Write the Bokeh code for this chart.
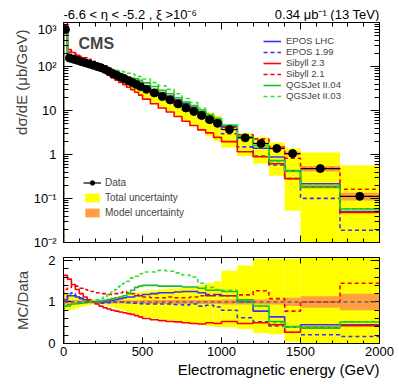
import math
from bokeh.plotting import figure
from bokeh.layouts import column, row
from bokeh.models import (Range1d, LinearAxis, LogAxis, Legend, LegendItem, Label, Title,
                          FixedTicker, LogTicker, CustomJSTickFormatter, ColumnDataSource, Span)
from bokeh.embed import file_html
from bokeh.resources import INLINE

FONT = "Liberation Sans"

# ---------------- data ----------------
bin_edges = [0, 25, 50, 75, 100, 125, 150, 175, 200, 225, 250, 275, 300, 325, 350, 375, 400,
             425, 450, 475, 500, 550, 600, 650, 700, 750, 800, 850, 900, 950, 1000,
             1100, 1200, 1300, 1400, 1500, 1750, 2000]

data_xsec = [690, 156, 147, 138, 129, 121, 114, 107, 100, 94, 86, 77, 69, 63, 57, 52, 47,
             42.7, 38.8, 35, 30.3, 25, 20.8, 17.4, 14.1, 11.4, 9.5, 7.7, 6.2, 5.1,
             3.7, 2.4, 1.78, 1.37, 1.05, 0.48, 0.112]

# relative total uncertainty (up / down) and model uncertainty
tot_up = [0.25, 0.2, 0.18, 0.15, 0.12, 0.1, 0.08, 0.06, 0.05, 0.05, 0.06, 0.08, 0.1, 0.12,
          0.14, 0.16, 0.18, 0.2, 0.22, 0.24, 0.26, 0.28, 0.3, 0.32, 0.33, 0.35, 0.36, 0.4,
          0.45, 0.5, 0.24, 0.26, 0.38, 0.36, 0.3, 1.3, 4.0]
tot_dn = [0.2, 0.2, 0.18, 0.15, 0.12, 0.1, 0.08, 0.06, 0.05, 0.05, 0.07, 0.1, 0.13, 0.16,
          0.19, 0.22, 0.25, 0.28, 0.3, 0.33, 0.36, 0.4, 0.42, 0.45, 0.48, 0.5, 0.52, 0.55,
          0.58, 0.6, 0.61, 0.62, 0.65, 0.76, 0.95, 0.999, 0.999]
model_unc = [0.06, 0.05, 0.05, 0.05, 0.04, 0.04, 0.04, 0.04, 0.04, 0.04, 0.04, 0.04, 0.04,
             0.04, 0.04, 0.04, 0.04, 0.04, 0.04, 0.04, 0.05, 0.05, 0.05, 0.05, 0.05, 0.05,
             0.05, 0.05, 0.05, 0.05, 0.06, 0.06, 0.06, 0.06, 0.1, 0.14, 0.2]

# total-uncertainty band as drawn in the ratio panel (upper / lower edge)
ratio_band_hi = [1.2, 1.2, 1.18, 1.15, 1.12, 1.1, 1.08, 1.06, 1.05, 1.05, 1.06, 1.08, 1.1,
                 1.12, 1.14, 1.16, 1.18, 1.2, 1.22, 1.24, 1.26, 1.28, 1.3, 1.32, 1.33, 1.35,
                 1.36, 1.4, 1.45, 1.5, 1.75, 1.88, 2.04, 2.04, 2.04, 2.2, 2.2]
ratio_band_lo = [0.8, 0.8, 0.82, 0.85, 0.88, 0.9, 0.92, 0.94, 0.95, 0.95, 0.93, 0.9, 0.87,
                 0.84, 0.81, 0.78, 0.75, 0.72, 0.7, 0.67, 0.64, 0.6, 0.58, 0.55, 0.52, 0.5,
                 0.48, 0.45, 0.42, 0.4, 0.39, 0.35, 0.25, 0.22, 0.05, 0.0, 0.0]

# MC / Data ratios
epos_lhc = [1.05, 1.15, 1.15, 1.12, 1.08, 1.04, 1.02, 1.0, 1.0, 1.0, 1.0, 1.02, 1.04, 1.06,
            1.08, 1.1, 1.12, 1.12, 1.15, 1.15, 1.18, 1.2, 1.22, 1.22, 1.24, 1.25, 1.25,
            1.22, 1.15, 1.18, 1.15, 1.0, 0.78, 0.64, 0.4, 0.45, 0.45]
epos_199 = [1.0, 1.2, 1.22, 1.15, 1.1, 1.05, 1.02, 1.0, 0.98, 0.97, 0.97, 0.98, 1.0, 1.0,
            1.0, 1.0, 0.98, 0.97, 0.97, 0.96, 0.95, 0.95, 0.95, 0.95, 0.94, 0.93, 0.95,
            0.9, 0.92, 0.88, 0.8, 0.62, 0.52, 0.42, 0.27, 0.21, 0.17]
sibyll_23 = [1.64, 1.55, 1.42, 1.3, 1.2, 1.12, 1.05, 1.0, 0.95, 0.9, 0.86, 0.83, 0.8, 0.78,
             0.76, 0.74, 0.72, 0.7, 0.67, 0.64, 0.6, 0.57, 0.55, 0.53, 0.52, 0.5, 0.48,
             0.47, 0.5, 0.48, 0.53, 0.48, 0.5, 0.45, 0.27, 0.39, 0.43]
sibyll_21 = [1.3, 1.35, 1.4, 1.38, 1.33, 1.3, 1.28, 1.25, 1.22, 1.2, 1.2, 1.18, 1.18, 1.2,
             1.22, 1.25, 1.22, 1.2, 1.18, 1.15, 1.12, 1.1, 1.1, 1.12, 1.1, 1.1, 1.12, 1.15,
             1.18, 1.15, 1.15, 1.17, 1.27, 1.08, 0.78, 1.0, 1.45]
qgsjet_04 = [0.9, 0.93, 0.95, 0.96, 0.97, 0.98, 1.0, 1.0, 1.0, 1.02, 1.04, 1.06, 1.08, 1.1,
             1.12, 1.15, 1.2, 1.28, 1.35, 1.38, 1.4, 1.4, 1.38, 1.38, 1.38, 1.36, 1.36,
             1.33, 1.28, 1.28, 1.25, 1.05, 0.9, 0.53, 0.41, 0.37, 0.52]
qgsjet_03 = [1.0, 0.9, 0.95, 1.0, 1.0, 1.02, 1.02, 1.03, 1.05, 1.08, 1.12, 1.18, 1.24, 1.3,
             1.38, 1.45, 1.5, 1.58, 1.62, 1.68, 1.72, 1.72, 1.76, 1.74, 1.7, 1.65, 1.6,
             1.45, 1.35, 1.3, 1.28, 0.99, 0.9, 0.5, 0.39, 0.4, 0.52]

models = [
    ("EPOS LHC", epos_lhc, "#3333ff", "solid"),
    ("EPOS 1.99", epos_199, "#3333ff", "4 3"),
    ("Sibyll 2.3", sibyll_23, "#ff0000", "solid"),
    ("Sibyll 2.1", sibyll_21, "#ff0000", "4 3"),
    ("QGSJet II.04", qgsjet_04, "#22bb22", "solid"),
    ("QGSJet II.03", qgsjet_03, "#33dd33", "4 3"),
]

lo = bin_edges[:-1]
hi = bin_edges[1:]
centers = [(a + b) / 2 for a, b in zip(lo, hi)]

YELLOW = "#ffff00"
ORANGE = "#ff9f40"
SIDE = 30            # width of the column holding the rotated y titles
LEFT, RIGHT = 63 - SIDE, 20


def style_axis(ax, major_in, minor_in, labels=True, size="13px"):
    ax.major_tick_in = major_in
    ax.major_tick_out = 0
    ax.minor_tick_in = minor_in
    ax.minor_tick_out = 0
    ax.axis_line_color = "black"
    ax.major_tick_line_color = "black"
    ax.minor_tick_line_color = "black"
    ax.major_label_text_font = FONT
    ax.major_label_text_color = "black"
    if labels:
        ax.major_label_text_font_size = size
    else:
        ax.major_label_text_font_size = "1px"
        ax.major_label_text_alpha = 0
        ax.major_label_standoff = 0


def blank_fig(w, h, bl=0, br=0):
    f = figure(frame_width=w, frame_height=h, x_range=Range1d(0, 1), y_range=Range1d(0, 1),
               output_backend="svg", toolbar_location=None, x_axis_location=None,
               y_axis_location=None, min_border_left=bl, min_border_right=br,
               min_border_top=0, min_border_bottom=0)
    f.outline_line_color = None
    f.grid.visible = False
    return f


def header_fig(w, h, bl, br, text, align):
    f = figure(width=w, height=h, x_range=Range1d(0, 1), y_range=Range1d(0, 1),
               output_backend="svg", toolbar_location=None, x_axis_location=None,
               y_axis_location=None, min_border_left=bl, min_border_right=br,
               min_border_top=0, min_border_bottom=0)
    f.outline_line_color = None
    f.grid.visible = False
    f.add_layout(Title(text=text, align=align, offset=0, standoff=0, text_font=FONT,
                       text_font_size="13px", text_font_style="normal", text_color="black"),
                 "below")
    return f


# ---------------- side column with the y titles ----------------
side = blank_fig(SIDE, 384)
side.add_layout(Label(x=21, y=384 - 29, x_units="screen", y_units="screen",
                      text="d\u03c3/dE (\u03bcb/GeV)", angle=math.pi / 2, text_font=FONT,
                      text_font_size="15px", text_baseline="middle", text_align="right"))
side.add_layout(Label(x=22, y=384 - 300, x_units="screen", y_units="screen", text="MC/Data",
                      angle=math.pi / 2, text_font=FONT, text_font_size="15px",
                      text_baseline="middle", text_align="center"))

# ---------------- header (texts above the top panel) ----------------
W1 = 180
head_l = header_fig(LEFT + W1, 21, LEFT, 0,
                    "-6.6 < \u03b7 < -5.2 , \u03be >10\u207b\u2076", "left")
head_r = header_fig(316 - W1 + RIGHT, 21, 0, RIGHT,
                    "0.34 \u03bcb\u207b\u00b9 (13 TeV)", "right")
head = row(head_l, head_r, spacing=0)

# ---------------- top panel ----------------
p1 = figure(frame_width=316, frame_height=220, x_range=Range1d(0, 2000),
            y_range=Range1d(0.01, 1000), y_axis_type="log", output_backend="svg",
            toolbar_location=None, min_border_left=LEFT, min_border_right=RIGHT,
            min_border_top=1, min_border_bottom=7)
p1.grid.visible = False
p1.outline_line_color = "black"

band_src = ColumnDataSource(dict(
    left=lo, right=hi,
    tot_top=[d * (1 + u) for d, u in zip(data_xsec, tot_up)],
    tot_bot=[max(d * (1 - w), 1e-3) for d, w in zip(data_xsec, tot_dn)],
    mod_top=[d * (1 + m) for d, m in zip(data_xsec, model_unc)],
    mod_bot=[d * (1 - m) for d, m in zip(data_xsec, model_unc)],
))
r_tot = p1.quad(left="left", right="right", top="tot_top", bottom="tot_bot", source=band_src,
                fill_color=YELLOW, line_color=None)
r_mod = p1.quad(left="left", right="right", top="mod_top", bottom="mod_bot", source=band_src,
                fill_color=ORANGE, line_color=None)

line_renderers = []
for name, ratio, color, dash in models:
    vals = [d * r for d, r in zip(data_xsec, ratio)]
    xs = [bin_edges[0]] + bin_edges
    ys = [1e-3] + vals + [vals[-1]]
    r = p1.step(x=xs, y=ys, mode="after", line_color=color, line_width=1.6, line_dash=dash)
    line_renderers.append((name, r))

r_err = p1.segment(x0=lo, x1=hi, y0=data_xsec, y1=data_xsec, line_color="black", line_width=1.2)
r_dat = p1.scatter(x=centers, y=data_xsec, size=8, marker="circle", fill_color="black",
                   line_color="black")

p1.xaxis.ticker = FixedTicker(ticks=[0, 500, 1000, 1500, 2000],
                              minor_ticks=list(range(0, 2001, 100)))
style_axis(p1.xaxis[0], 7, 4, labels=False)
p1.yaxis.ticker = LogTicker(num_minor_ticks=10)
p1.yaxis.formatter = CustomJSTickFormatter(code="""
const e = Math.round(Math.log10(tick));
const sup = {'-':'\u207b','0':'\u2070','1':'\u00b9','2':'\u00b2','3':'\u00b3','4':'\u2074','5':'\u2075','6':'\u2076','7':'\u2077','8':'\u2078','9':'\u2079'};
if (e == 0) return '1';
if (e == 1) return '10';
return '10' + String(e).split('').map(c => sup[c]).join('');
""")
style_axis(p1.yaxis[0], 9, 5, labels=True, size="13px")
p1.yaxis.major_label_standoff = 7

ax_top = LinearAxis(ticker=FixedTicker(ticks=[0, 500, 1000, 1500, 2000],
                                       minor_ticks=list(range(0, 2001, 100))))
style_axis(ax_top, 7, 4, labels=False)
p1.add_layout(ax_top, "above")
ax_right = LogAxis(ticker=LogTicker(num_minor_ticks=10))
style_axis(ax_right, 9, 5, labels=False)
p1.add_layout(ax_right, "right")

leg_models = Legend(items=[LegendItem(label=n, renderers=[r]) for n, r in line_renderers],
                    location=(200, 141), orientation="vertical", padding=0, margin=0,
                    spacing=0, glyph_width=18, glyph_height=10, label_height=10,
                    label_standoff=5, label_text_font=FONT, label_text_font_size="9.5px",
                    background_fill_alpha=0, border_line_alpha=0)
p1.add_layout(leg_models)
leg_data = Legend(items=[LegendItem(label="Data", renderers=[r_err, r_dat]),
                         LegendItem(label="Total uncertainty", renderers=[r_tot]),
                         LegendItem(label="Model uncertainty", renderers=[r_mod])],
                  location=(20, 24), orientation="vertical", padding=0, margin=0,
                  spacing=4, glyph_width=18, glyph_height=11, label_height=11,
                  label_standoff=4, label_text_font=FONT, label_text_font_size="10px",
                  background_fill_alpha=0, border_line_alpha=0)
p1.add_layout(leg_data)
p1.add_layout(Label(x=15, y=199, x_units="screen", y_units="screen", text="CMS",
                    text_font=FONT, text_font_size="16px", text_font_style="bold",
                    text_baseline="alphabetic"))

# ---------------- ratio panel ----------------
p2 = figure(frame_width=316, frame_height=86, x_range=p1.x_range, y_range=Range1d(0, 2.07),
            output_backend="svg", toolbar_location=None, min_border_left=LEFT,
            min_border_right=RIGHT, min_border_top=8, min_border_bottom=41)
p2.grid.visible = False
p2.outline_line_color = "black"

rband = ColumnDataSource(dict(
    left=lo, right=hi,
    tot_top=ratio_band_hi, tot_bot=ratio_band_lo,
    mod_top=[1 + m for m in model_unc], mod_bot=[1 - m for m in model_unc],
))
p2.quad(left="left", right="right", top="tot_top", bottom="tot_bot", source=rband,
        fill_color=YELLOW, line_color=None)
p2.quad(left="left", right="right", top="mod_top", bottom="mod_bot", source=rband,
        fill_color=ORANGE, line_color=None)
p2.add_layout(Span(location=1, dimension="width", line_color="#666666", line_width=1.5,
                   line_dash="4 3"))
for name, ratio, color, dash in models:
    xs = [bin_edges[0]] + bin_edges
    ys = [0] + list(ratio) + [ratio[-1]]
    p2.step(x=xs, y=ys, mode="after", line_color=color, line_width=1.6, line_dash=dash)

p2.xaxis.ticker = FixedTicker(ticks=[0, 500, 1000, 1500, 2000],
                              minor_ticks=list(range(0, 2001, 100)))
style_axis(p2.xaxis[0], 6, 3, labels=True, size="13px")
p2.xaxis.major_label_standoff = 3
p2.yaxis.ticker = FixedTicker(ticks=[0, 1, 2], minor_ticks=[i * 0.2 for i in range(11)])
style_axis(p2.yaxis[0], 9, 5, labels=True, size="13px")
p2.yaxis.major_label_standoff = 8
ax_top2 = LinearAxis(ticker=FixedTicker(ticks=[0, 500, 1000, 1500, 2000],
                                        minor_ticks=list(range(0, 2001, 100))))
style_axis(ax_top2, 6, 3, labels=False)
p2.add_layout(ax_top2, "above")
ax_right2 = LinearAxis(ticker=FixedTicker(ticks=[0, 1, 2],
                                          minor_ticks=[i * 0.2 for i in range(11)]))
style_axis(ax_right2, 9, 5, labels=False)
p2.add_layout(ax_right2, "right")
p2.add_layout(Title(text="Electromagnetic energy (GeV)", align="right", offset=0, standoff=0,
                    text_font=FONT, text_font_size="15px", text_font_style="normal",
                    text_color="black"), "below")

layout = row(side, column(head, p1, p2, spacing=0), spacing=0)
open("out.html", "w").write(file_html(layout, INLINE))
